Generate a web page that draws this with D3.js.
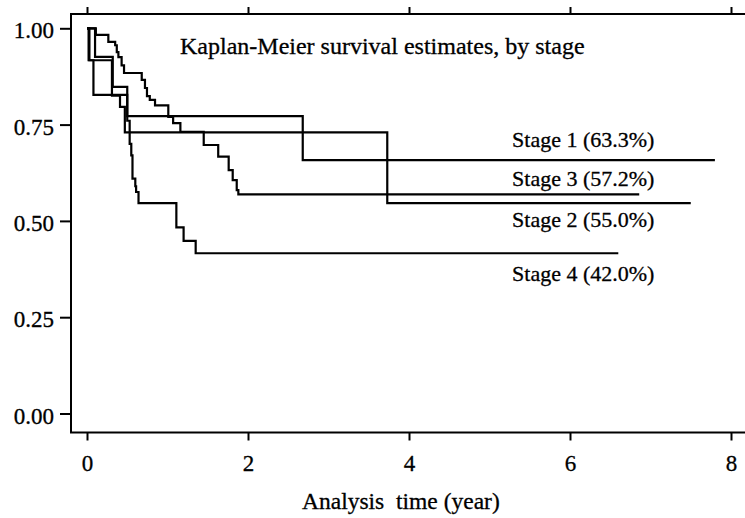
<!DOCTYPE html>
<html>
<head>
<meta charset="utf-8">
<script src="https://cdn.jsdelivr.net/npm/d3@7"></script>
<style>
  html, body { margin: 0; padding: 0; background: #fff; }
  svg { display: block; }
  text { font-family: "Liberation Serif", "Times New Roman", serif; fill: #000; stroke: #000; stroke-width: 0.3px; }
</style>
</head>
<body>
<div id="chart"></div>
<script>
// Kaplan-Meier step curves (time in years, survival)
const stage1Time = [0, 0.1, 0.32, 0.5, 2.68, 7.8]
const stage1Surv = [1, 0.926, 0.848, 0.772, 0.658, 0.658]

const stage2Time = [0, 0.02, 0.31, 0.41, 0.47, 3.73, 7.5]
const stage2Surv = [1, 0.917, 0.825, 0.796, 0.73, 0.546, 0.546]

const stage3Time = [0, 0.11, 0.265, 0.35, 0.37, 0.39, 0.43, 0.46, 0.68, 0.72, 0.745, 0.78, 0.845, 1.01, 1.07, 1.16, 1.45, 1.63, 1.76, 1.81, 1.86, 1.88, 6.86]
const stage3Surv = [1, 0.983, 0.965, 0.956, 0.938, 0.925, 0.904, 0.884, 0.866, 0.845, 0.824, 0.814, 0.80, 0.77, 0.754, 0.731, 0.697, 0.667, 0.632, 0.606, 0.58, 0.569, 0.569]

const stage4Time = [0, 0.03, 0.08, 0.5, 0.53, 0.55, 0.565, 0.6, 0.61, 0.64, 1.11, 1.2, 1.35, 6.6]
const stage4Surv = [1, 0.917, 0.827, 0.76, 0.70, 0.67, 0.61, 0.59, 0.575, 0.546, 0.483, 0.448, 0.416, 0.416]

const stageLabels = ['Stage 1 (63.3%)', 'Stage 3 (57.2%)', 'Stage 2 (55.0%)', 'Stage 4 (42.0%)']
const xTicks = [0, 2, 4, 6, 8]
const yTicks = [0, 0.25, 0.5, 0.75, 1]

const title = 'Kaplan-Meier survival estimates, by stage'
const xTitle = 'Analysis\u00a0\u00a0time (year)'

const width = 745
const height = 518
const frame = { left: 71, top: 14, bottom: 432.5, right: 745 }

const svg = d3.select('#chart')
  .append('svg')
  .attr('width', width)
  .attr('height', height)

const x = d3.scaleLinear().domain([0, 8]).range([87, 731])
const y = d3.scaleLinear().domain([0, 1]).range([413.5, 28.3])

// frame: left, top and bottom lines only
svg.append('path')
  .attr('d', `M${frame.right},${frame.top}H${frame.left}V${frame.bottom}H${frame.right}`)
  .attr('fill', 'none')
  .attr('stroke', '#000')
  .attr('stroke-width', 2)

const yAxis = svg.append('g')
  .attr('transform', `translate(${frame.left},0)`)
  .call(d3.axisLeft(y).tickValues(yTicks).tickFormat(d3.format('.2f')).tickSize(11).tickPadding(6))

const xAxis = svg.append('g')
  .attr('transform', `translate(0,${frame.bottom})`)
  .call(d3.axisBottom(x).tickValues(xTicks).tickFormat(d3.format('d')).tickSize(8).tickPadding(14))

const xTop = svg.append('g')
  .attr('transform', `translate(0,${frame.top})`)
  .call(d3.axisTop(x).tickValues(xTicks).tickFormat('').tickSize(7))

;[yAxis, xAxis, xTop].forEach(g => {
  g.select('.domain').remove()
  g.selectAll('.tick line').attr('stroke', '#000').attr('stroke-width', 2)
  g.selectAll('.tick text')
    .attr('fill', '#000')
    .style('font-size', '23px')
    .style('font-family', '"Liberation Serif", "Times New Roman", serif')
})
yAxis.selectAll('.tick text').attr('dy', '0.42em')

const line = d3.line()
  .x(d => x(d[0]))
  .y(d => y(d[1]))
  .curve(d3.curveStepAfter)

const curves = [
  d3.zip(stage1Time, stage1Surv),
  d3.zip(stage2Time, stage2Surv),
  d3.zip(stage3Time, stage3Surv),
  d3.zip(stage4Time, stage4Surv)
]

svg.append('g')
  .selectAll('path')
  .data(curves)
  .join('path')
  .attr('d', line)
  .attr('fill', 'none')
  .attr('stroke', '#000')
  .attr('stroke-width', 2.2)

// labels to the right of the curves
const labelY = [0.692, 0.591, 0.483, 0.344]
svg.append('g')
  .selectAll('text')
  .data(stageLabels)
  .join('text')
  .attr('x', x(5.28))
  .attr('y', (d, i) => y(labelY[i]))
  .style('font-size', '22px')
  .text(d => d)

svg.append('text')
  .attr('x', 180)
  .attr('y', 54)
  .style('font-size', '24px')
  .text(title)

svg.append('text')
  .attr('x', 302)
  .attr('y', 509)
  .style('font-size', '23.5px')
  .text(xTitle)
</script>
</body>
</html>
